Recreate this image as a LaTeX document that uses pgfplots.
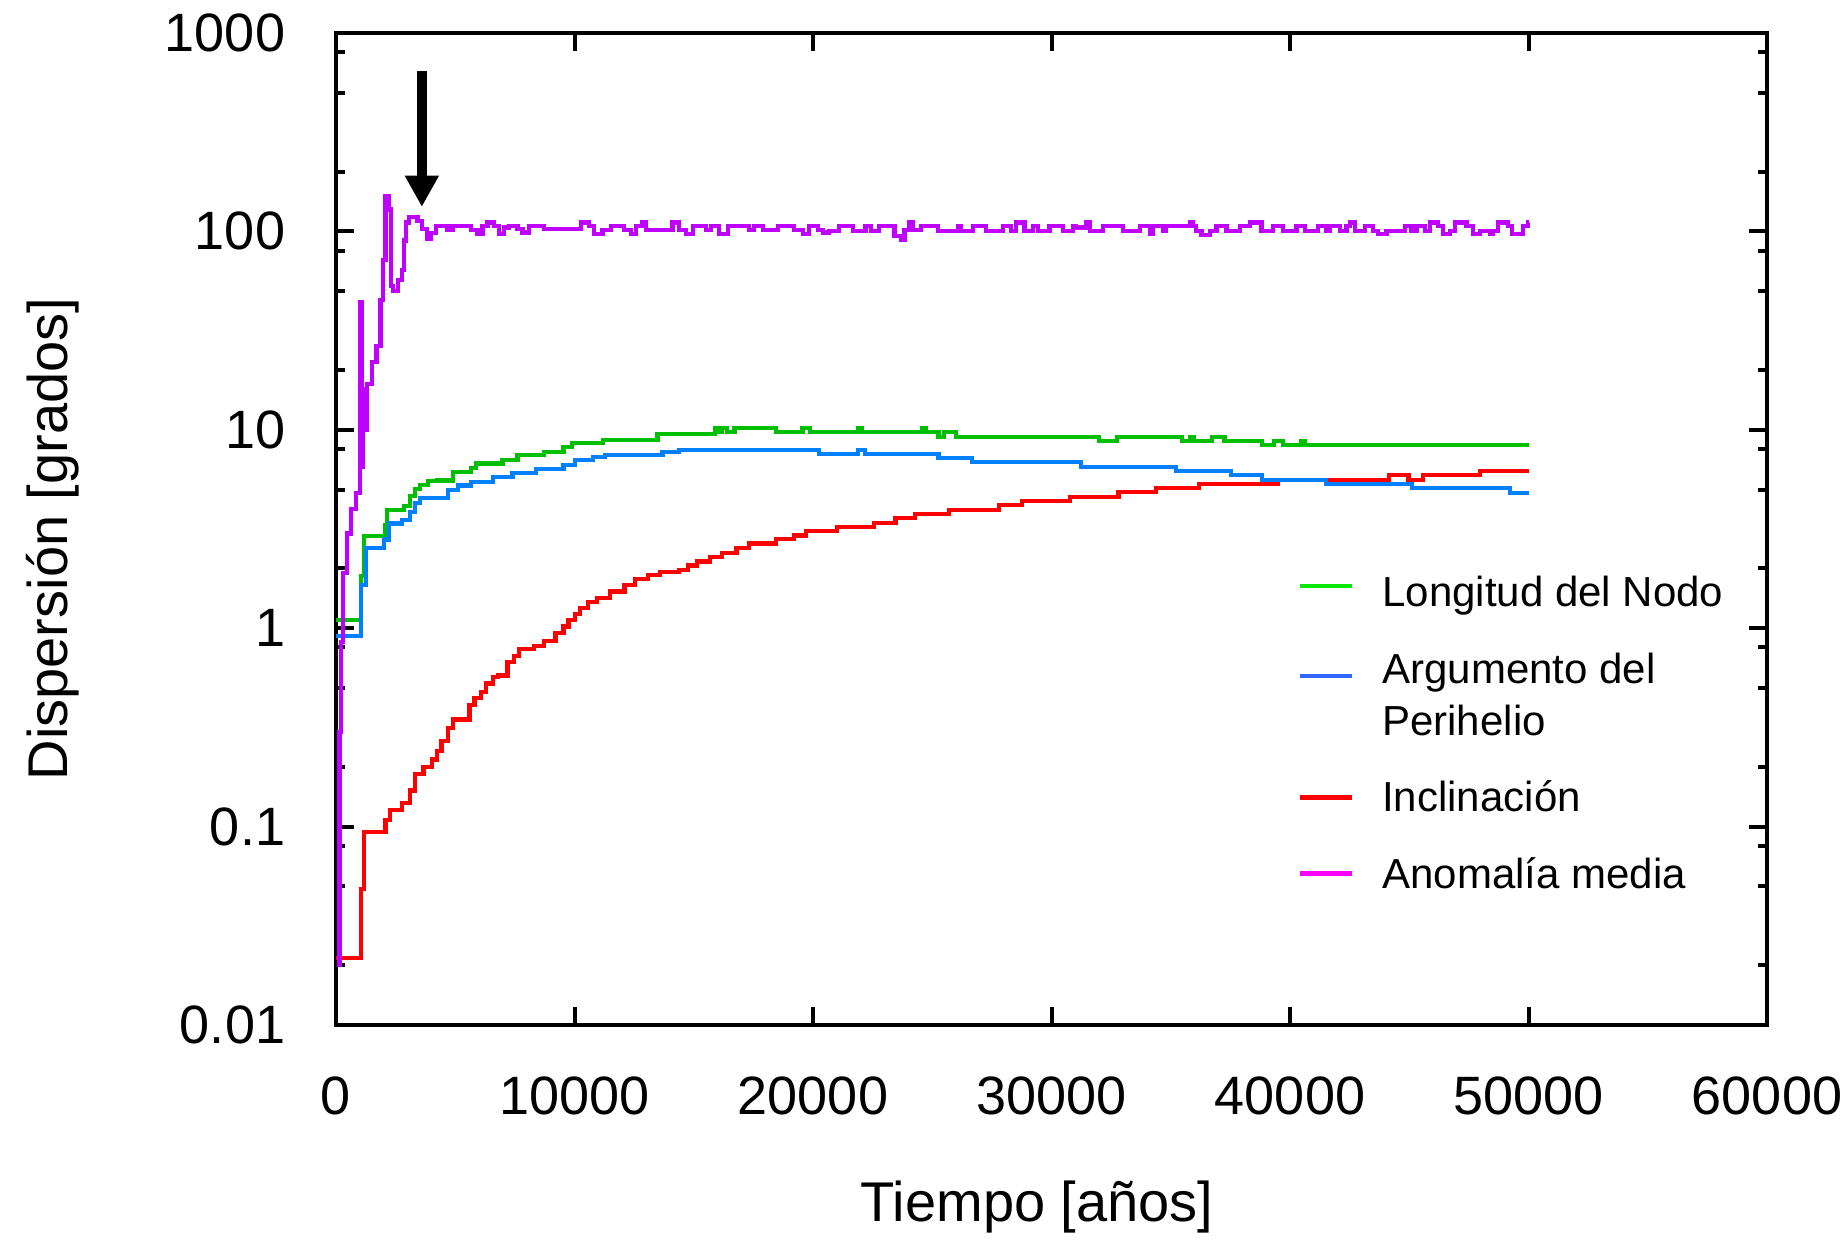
\documentclass[border=0pt]{standalone}
\usepackage{fontspec}
\setmainfont{Liberation Sans}
\usepackage{pgfplots}
\pgfplotsset{compat=1.18}
\usetikzlibrary{arrows.meta}
\definecolor{lgreen}{RGB}{0,190,0}
\definecolor{lblue}{RGB}{0,128,255}
\definecolor{lred}{RGB}{255,0,0}
\definecolor{lpurple}{RGB}{191,0,255}
\definecolor{kgreen}{RGB}{10,232,10}
\definecolor{kblue}{RGB}{51,102,255}
\definecolor{kmag}{RGB}{250,0,250}
\begin{document}
\begin{tikzpicture}
\begin{axis}[
  scale only axis, width=357.75pt, height=248pt,
  xmin=0, xmax=60000, ymin=0.01, ymax=1000, ymode=log,
  scaled x ticks=false,
  xtick={0,10000,20000,30000,40000,50000,60000},
  xticklabels={0,10000,20000,30000,40000,50000,60000},
  ytick={0.01,0.1,1,10,100,1000},
  yticklabels={0.01,0.1,1,10,100,1000},
  minor ytick={0.02,0.05,0.08,0.2,0.5,0.8,2,5,8,20,50,80,200,500,800},
  tick align=inside,
  major tick length=4.5pt, minor tick length=2.2pt,
  tick style={black, line width=1pt},
  axis line style={line width=1.1pt},
  xticklabel style={font=\fontsize{13.5}{16}\selectfont, yshift=-9.5pt},
  yticklabel style={font=\fontsize{13.5}{16}\selectfont, xshift=-9.2pt},
  xlabel={Tiempo [años]}, ylabel={Dispersión [grados]},
  xlabel style={font=\fontsize{14}{17}\selectfont, at={(axis description cs:0.49,-0.1835)}, anchor=center},
  ylabel style={font=\fontsize{14}{17}\selectfont, at={(axis description cs:-0.1978,0.49)}, anchor=center},
]
\addplot[const plot, color=lred, line width=1.05pt] coordinates {
(0,0.0218)(1037,0.0485)(1176,0.094)(2075,0.108)(2255,0.121)(2766,0.131)(3112,0.152)(3319,0.184)(3665,0.20)(4010,0.218)(4218,0.24)(4425,0.27)(4700,0.314)(4910,0.347)(5600,0.41)(5810,0.443)(6085,0.477)(6290,0.527)(6570,0.57)(6777,0.577)(7190,0.673)(7470,0.726)(7675,0.784)(8300,0.81)(8713,0.865)(9200,0.947)(9540,1.02)(9750,1.10)(10030,1.18)(10230,1.27)(10580,1.35)(10930,1.42)(11480,1.53)(12100,1.65)(12520,1.77)(13070,1.85)(13600,1.92)(14392,1.965)(14766,2.07)(15140,2.17)(15693,2.29)(16190,2.40)(16790,2.53)(17315,2.67)(18437,2.81)(19190,2.93)(19710,3.08)(21000,3.25)(22560,3.40)(23460,3.58)(24280,3.78)(25700,3.96)(27800,4.16)(28770,4.39)(30790,4.60)(32810,4.84)(34380,5.09)(36180,5.33)(39490,5.6)(44140,5.9)(44964,5.6)(45564,5.9)(47960,6.22)(50000,6.22)
};
\addplot[const plot, color=lgreen, line width=1.05pt] coordinates {
(0,1.10)(1037,1.84)(1176,2.91)(2075,3.3)(2144,3.93)(2835,4.14)(3112,4.62)(3319,5.05)(3527,5.28)(3872,5.51)(4218,5.55)(4910,6.11)(5670,6.43)(5878,6.77)(6984,7.07)(7607,7.44)(8713,7.7)(9540,8.2)(9890,8.6)(11200,8.9)(13480,9.5)(15891,10.25)(16060,9.75)(16200,10.25)(16410,9.75)(16710,10.25)(18437,9.75)(19561,10.25)(19861,9.75)(21880,10.25)(22030,9.75)(24580,10.25)(24730,9.75)(25258,9.2)(25482,9.75)(26007,9.2)(32000,8.81)(32760,9.2)(35460,8.81)(35830,9.2)(35980,8.81)(36730,9.2)(37250,8.81)(38820,8.38)(39342,8.81)(39690,8.38)(40470,8.81)(40620,8.38)(50000,8.38)
};
\addplot[const plot, color=lblue, line width=1.05pt] coordinates {
(0,0.91)(1037,1.65)(1245,2.53)(2005,2.8)(2213,3.37)(2766,3.52)(3112,3.84)(3319,4.29)(3527,4.52)(3872,4.55)(4700,4.97)(5117,5.24)(5670,5.48)(6570,5.76)(7400,6.07)(8370,6.35)(9540,6.67)(10030,7.07)(10790,7.28)(11270,7.44)(13690,7.7)(14392,7.91)(20237,7.58)(21886,7.91)(22185,7.58)(25258,7.21)(26680,6.86)(31250,6.52)(35220,6.22)(37540,5.9)(38820,5.6)(41520,5.33)(45110,5.07)(49230,4.82)(50000,4.82)
};
\addplot[const plot, color=lpurple, line width=1.05pt] coordinates {
(60,0.02)(150,0.3)(200,0.85)(277,1.9)(456,3.0)(622,4.0)(830,4.8)(1010,44)(1080,6.5)(1148,16)(1230,10)(1314,17)(1521,22)(1701,26.5)(1867,45)(1960,72)(2075,151)(2213,129)(2300,53)(2393,50)(2600,57)(2766,64)(2850,90)(2946,111)(3063,118)(3413,113)(3622,102.7)(3832,91.5)(3972,98)(4182,106.8)(4672,101.6)(4881,106.8)(5650,101.6)(5930,97)(6140,106.8)(6350,111)(6630,106.8)(6840,97)(7050,104.7)(7260,106.8)(7609,102.7)(7819,98.8)(8099,106.8)(8727,102.7)(10266,111)(10616,106.8)(10826,97)(11175,101.6)(11525,106.8)(12084,101.6)(12364,97)(12574,106.8)(12854,111)(12994,101.6)(14113,111)(14392,101.6)(14672,97)(14952,106.8)(15512,101.6)(15722,106.8)(16071,97)(16421,106.8)(17330,101.6)(17540,106.8)(17890,101.6)(18519,106.8)(19218,101.6)(19568,97)(19848,106.8)(20197,101.6)(20407,98.8)(20686,100.8)(21106,106.8)(21665,100.8)(22197,106.8)(22435,100.8)(22757,106.8)(23414,95)(23694,90.4)(23834,101.6)(24044,111)(24184,101.6)(24533,106.8)(25233,100.8)(26072,106.8)(26212,100.8)(26702,106.8)(27261,100.8)(27961,106.8)(28311,100.8)(28520,111)(28870,100.8)(29220,106.8)(29430,100.8)(29919,106.8)(30479,100.8)(30899,106.8)(31039,104.7)(31458,111)(31598,100.8)(32158,106.8)(32997,100.8)(33697,106.8)(34116,97)(34256,106.8)(34676,100.8)(34816,106.8)(35795,111)(35935,106.8)(36075,100.8)(36285,95.8)(36635,100.8)(36914,106.8)(37334,100.8)(37894,106.8)(38313,111)(38803,100.8)(39293,106.8)(39712,100.8)(40272,106.8)(40622,100.8)(41181,106.8)(41527,100.8)(41667,106.8)(42087,100.8)(42367,106.8)(42506,111)(42716,100.8)(43136,106.8)(43486,100.8)(43696,97)(44045,100.8)(44815,106.8)(45095,100.8)(45305,106.8)(45654,100.8)(45864,111)(46214,106.8)(46424,97)(46704,100.8)(46913,111)(47403,106.8)(47683,97)(47963,100.8)(48382,97)(48522,100.8)(48732,111)(49152,106.8)(49292,97)(49781,106.8)(49991,111)(50000,111)
};
\draw[black, line width=2.5pt, -{Triangle[width=8pt,length=7.8pt]}] (axis cs:3600,643) -- (axis cs:3600,133);
% legend
\draw[kgreen, line width=1.1pt] (axis description cs:0.674,0.4425) -- (axis description cs:0.7097,0.4425);
\draw[kblue, line width=1.1pt] (axis description cs:0.674,0.3518) -- (axis description cs:0.7097,0.3518);
\draw[lred, line width=1.1pt] (axis description cs:0.674,0.2295) -- (axis description cs:0.7097,0.2295);
\draw[kmag, line width=1.1pt] (axis description cs:0.674,0.1529) -- (axis description cs:0.7097,0.1529);
\begin{scope}[every node/.style={anchor=base west, inner sep=0pt, font=\fontsize{10.5}{11.75}\selectfont}]
\node at (axis description cs:0.7306,0.4217) {Longitud del Nodo};
\node at (axis description cs:0.7306,0.3438) {Argumento del};
\node at (axis description cs:0.7306,0.2923) {Perihelio};
\node at (axis description cs:0.7306,0.2150) {Inclinación};
\node at (axis description cs:0.7306,0.1378) {Anomalía media};
\end{scope}
\end{axis}
\pgfresetboundingbox
\path[use as bounding box] ([shift={(-84pt,-53.5pt)}]current axis.south west) rectangle ([shift={(19pt,8.25pt)}]current axis.north east);
\end{tikzpicture}
\end{document}
